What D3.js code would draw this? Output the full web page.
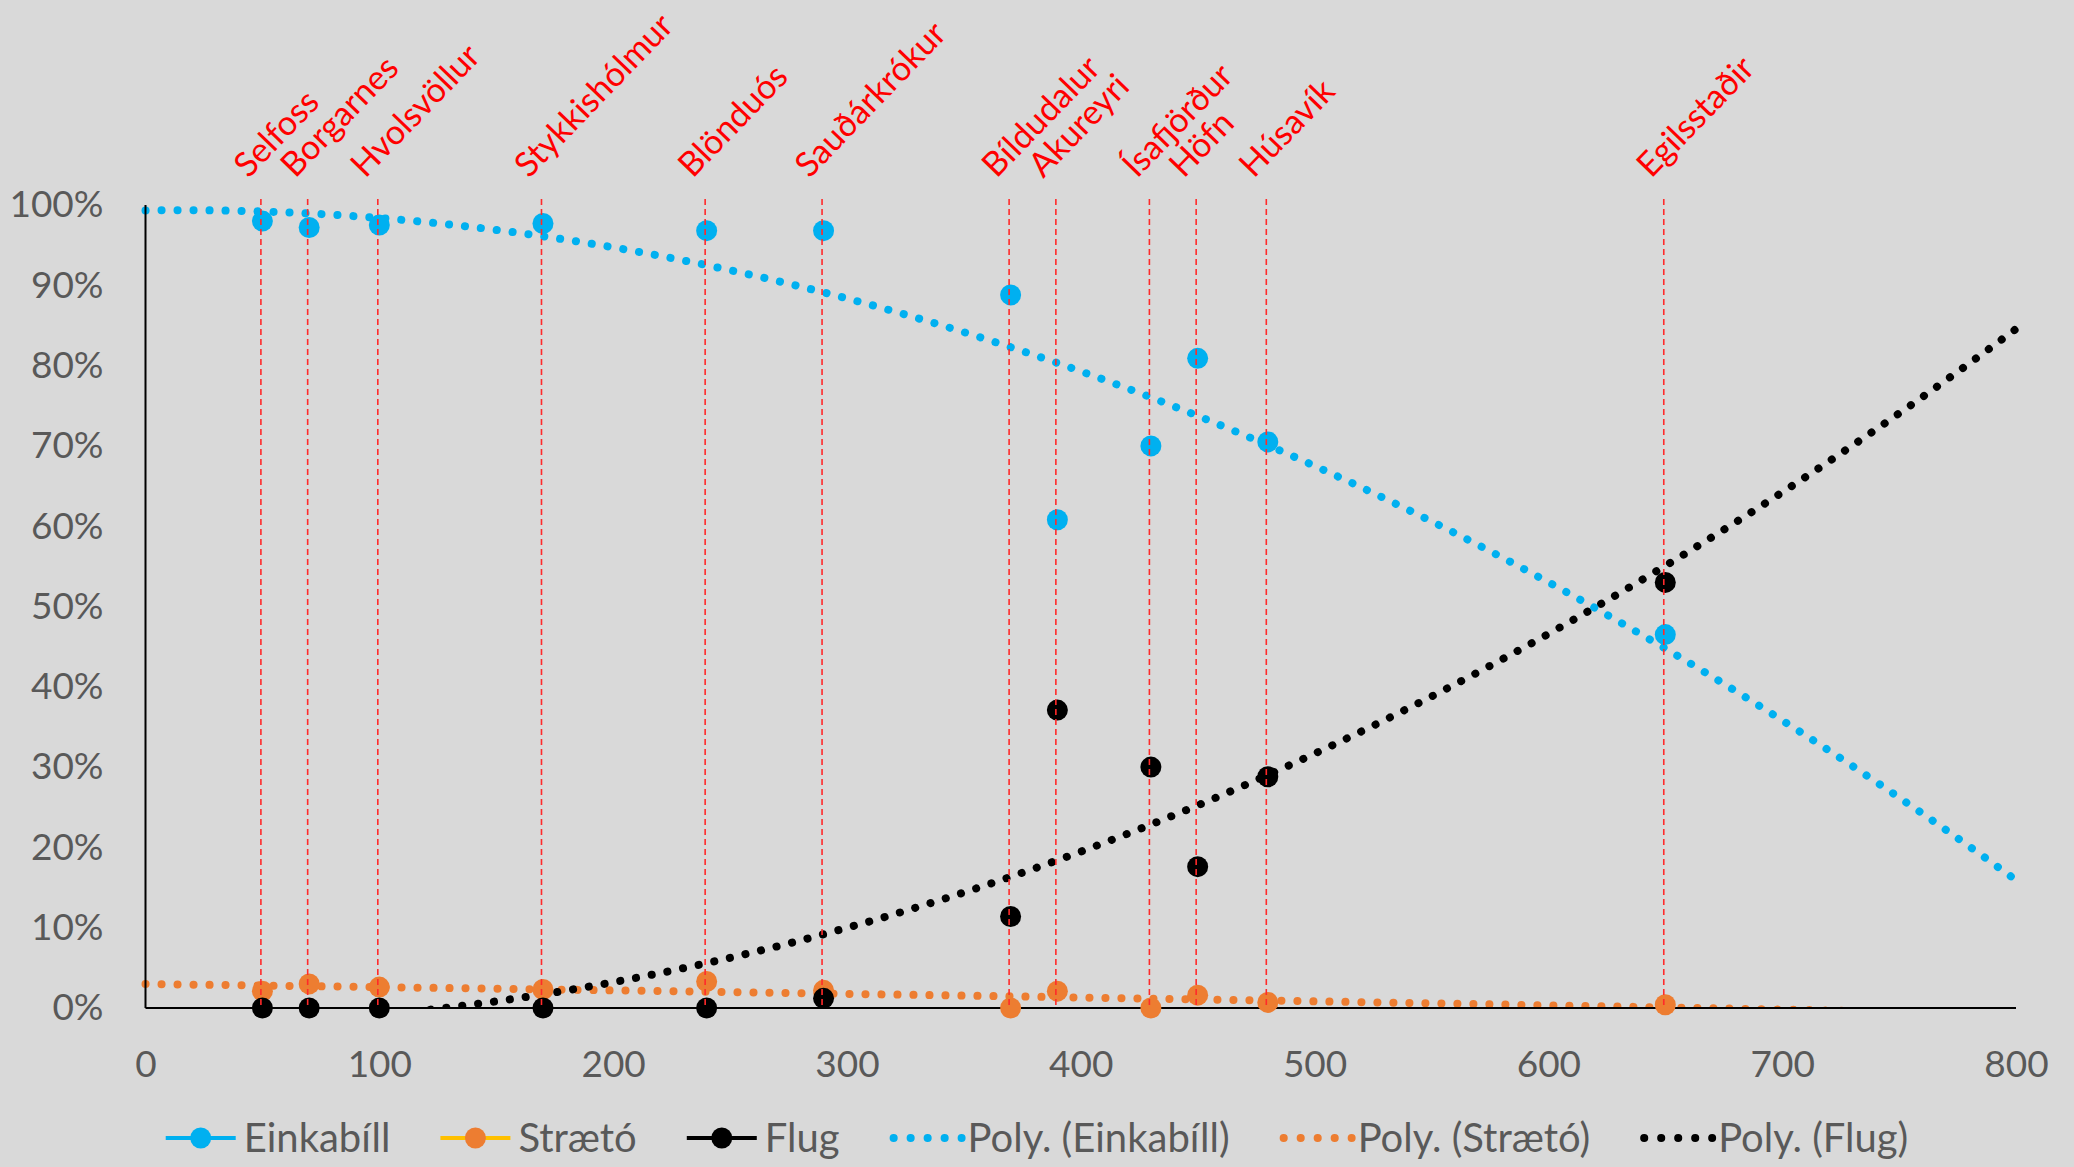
<!DOCTYPE html>
<html>
<head>
<meta charset="utf-8">
<script src="https://cdn.jsdelivr.net/npm/d3@7"></script>
<style>
    body { margin: 0; background: #d9d9d9; }
    svg { display: block; font-family: Lato, "Open Sans", sans-serif; }
</style>
</head>
<body>
<div id="chart"></div>
<script>
// Gögn lesin af myndinni
const cities = ["Selfoss", "Borgarnes", "Hvolsvöllur", "Stykkishólmur", "Blönduós", "Sauðárkrókur",
                "Bíldudalur", "Akureyri", "Ísafjörður", "Höfn", "Húsavík", "Egilsstaðir"];
const distance = [50, 70, 100, 170, 240, 290, 370, 390, 430, 450, 480, 650];
const einkabill = [0.980, 0.972, 0.975, 0.977, 0.968, 0.968, 0.888, 0.608, 0.700, 0.809, 0.705, 0.465];
const straeto   = [0.021, 0.030, 0.026, 0.023, 0.033, 0.022, 0.000, 0.021, 0.000, 0.016, 0.007, 0.004];
const flug      = [0.000, 0.000, 0.000, 0.000, 0.000, 0.012, 0.114, 0.371, 0.300, 0.176, 0.288, 0.530];
const xTicks = [0, 100, 200, 300, 400, 500, 600, 700, 800];
const yTicks = [0, 0.1, 0.2, 0.3, 0.4, 0.5, 0.6, 0.7, 0.8, 0.9, 1.0];

const series = [
    { name: "Einkabíll", values: einkabill, color: "#00b0f0", legendLine: "#00b0f0" },
    { name: "Strætó",    values: straeto,   color: "#ed7d31", legendLine: "#ffc000" },
    { name: "Flug",      values: flug,      color: "#000000", legendLine: "#000000" }
];

const width = 2074, height = 1167;

const svg = d3.select("#chart")
    .append("svg")
    .attr("width", width)
    .attr("height", height);

svg.append("rect")
    .attr("width", width)
    .attr("height", height)
    .attr("fill", "#d9d9d9");

const x = d3.scaleLinear().domain([0, 800]).range([145.5, 2016]);
const y = d3.scaleLinear().domain([0, 1]).range([1008, 205]);

// klippa leitnilínur við teiknisvæðið
svg.append("clipPath")
    .attr("id", "plot-clip")
    .append("rect")
    .attr("x", x(0) - 10)
    .attr("y", 0)
    .attr("width", x(800) - x(0) + 20)
    .attr("height", y(0));

// 2. stigs margliðu aðhvarf (eins og "Poly." trendline í Excel)
function polyfit2(xs, ys) {
    const S = [0, 0, 0, 0, 0], T = [0, 0, 0];
    xs.forEach((xv, i) => {
        for (let k = 0; k < 5; k++) S[k] += Math.pow(xv, k);
        for (let k = 0; k < 3; k++) T[k] += ys[i] * Math.pow(xv, k);
    });
    const A = [[S[0], S[1], S[2], T[0]], [S[1], S[2], S[3], T[1]], [S[2], S[3], S[4], T[2]]];
    for (let c = 0; c < 3; c++) {
        for (let r = c + 1; r < 3; r++) {
            const f = A[r][c] / A[c][c];
            for (let k = c; k < 4; k++) A[r][k] -= f * A[c][k];
        }
    }
    const co = [0, 0, 0];
    for (let r = 2; r >= 0; r--) {
        let s = A[r][3];
        for (let k = r + 1; k < 3; k++) s -= A[r][k] * co[k];
        co[r] = s / A[r][r];
    }
    return co;
}

// ásar
const yAxis = svg.append("g")
    .attr("transform", `translate(${x(0)},0)`)
    .call(d3.axisLeft(y).tickValues(yTicks).tickSize(0).tickPadding(42).tickFormat(d3.format(".0%")));
yAxis.select(".domain").remove();
yAxis.selectAll("text")
    .attr("fill", "#595959")
    .style("font-size", "37px")
    .style("font-family", "Lato, sans-serif");

const xAxis = svg.append("g")
    .attr("transform", `translate(0,${y(0)})`)
    .call(d3.axisBottom(x).tickValues(xTicks).tickSize(0).tickFormat(d3.format("d")));
xAxis.select(".domain").remove();
xAxis.selectAll("text")
    .attr("fill", "#595959")
    .attr("y", 56)
    .attr("dy", "0.35em")
    .style("font-size", "37px")
    .style("font-family", "Lato, sans-serif");

// leitnilínur
const trendLine = d3.line().x(d => x(d[0])).y(d => y(d[1]));
const samples = d3.range(0, 801, 2);

const trends = svg.append("g").attr("clip-path", "url(#plot-clip)");
series.forEach(s => {
    const co = polyfit2(distance, s.values);
    const pts = samples.map(t => [t, co[0] + co[1] * t + co[2] * t * t]).filter(d => d[1] > -0.02);
    trends.append("path")
        .datum(pts)
        .attr("d", trendLine)
        .attr("fill", "none")
        .attr("stroke", s.color)
        .attr("stroke-width", 8)
        .attr("stroke-linecap", "round")
        .attr("stroke-dasharray", "0.1 15.9");
});

svg.append("line")
    .attr("x1", x(0)).attr("x2", x(0))
    .attr("y1", y(1)).attr("y2", y(0))
    .attr("stroke", "#000").attr("stroke-width", 2);
svg.append("line")
    .attr("x1", x(0)).attr("x2", x(800))
    .attr("y1", y(0)).attr("y2", y(0))
    .attr("stroke", "#000").attr("stroke-width", 2);

// punktar
series.forEach(s => {
    svg.append("g")
        .selectAll("circle")
        .data(s.values)
        .enter()
        .append("circle")
        .attr("cx", (d, i) => x(distance[i]))
        .attr("cy", d => y(d))
        .attr("r", 10.5)
        .attr("fill", s.color);
});

// rauðar línur og nöfn staða
svg.append("g")
    .selectAll("line")
    .data(distance)
    .enter()
    .append("line")
    .attr("x1", d => x(d) - 1.5).attr("x2", d => x(d) - 1.5)
    .attr("y1", y(1) - 6).attr("y2", y(0))
    .attr("stroke", "#ff2a2a")
    .attr("stroke-width", 1.6)
    .attr("stroke-dasharray", "6 4");

svg.append("g")
    .selectAll("text")
    .data(cities)
    .enter()
    .append("text")
    .attr("transform", (d, i) => `translate(${x(distance[i]) - 14},179) rotate(-46)`)
    .attr("fill", "#ff0000")
    .style("font-size", "34px")
    .text(d => d);

// skýringar
const legendItems = [
    ...series.map(s => ({ label: s.name, type: "marker", s })),
    ...series.map(s => ({ label: `Poly. (${s.name})`, type: "dots", s }))
];

const legend = svg.append("g");
let cursor = 0;
legendItems.forEach(item => {
    const g = legend.append("g").attr("transform", `translate(${cursor},0)`);
    if (item.type === "marker") {
        g.append("line")
            .attr("x1", 0).attr("x2", 70)
            .attr("stroke", item.s.legendLine)
            .attr("stroke-width", 4);
        g.append("circle")
            .attr("cx", 35).attr("r", 10.5)
            .attr("fill", item.s.color);
    } else {
        g.append("line")
            .attr("x1", 4).attr("x2", 72)
            .attr("stroke", item.s.color)
            .attr("stroke-width", 8)
            .attr("stroke-linecap", "round")
            .attr("stroke-dasharray", "0.1 16.9");
    }
    const t = g.append("text")
        .attr("x", 78)
        .attr("dy", "0.35em")
        .attr("fill", "#595959")
        .style("font-size", "40px")
        .text(item.label);
    cursor += 78 + t.node().getComputedTextLength() + 50;
});
cursor -= 50;
legend.attr("transform", `translate(${(width - cursor) / 2},1138)`);
</script>
</body>
</html>
